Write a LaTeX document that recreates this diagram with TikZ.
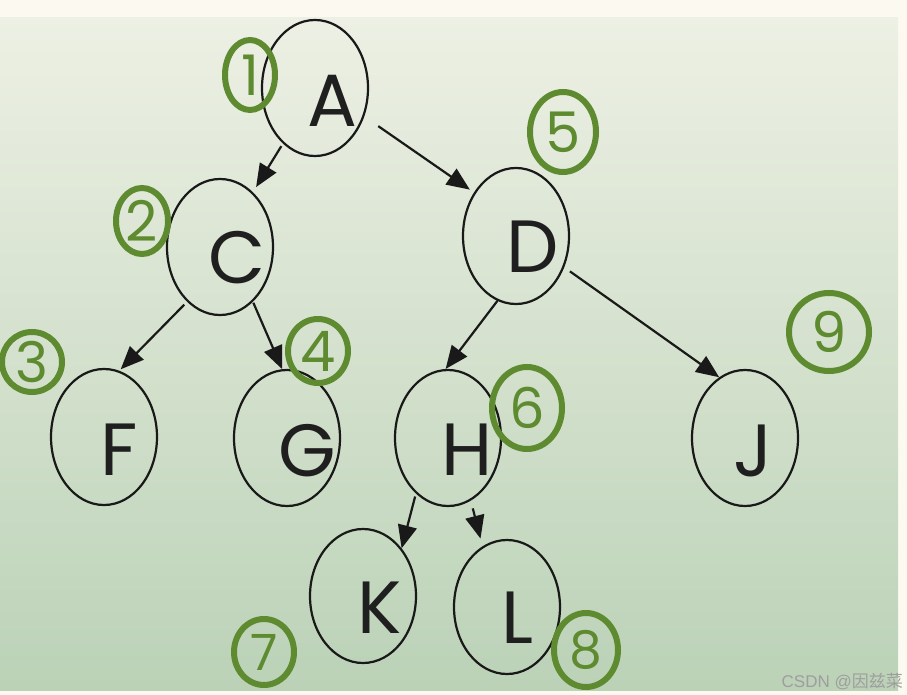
\documentclass[tikz,border=0pt]{standalone}
\usepackage{fontspec}
\setmainfont{Poppins}
\newfontfamily\cjk{Noto Sans CJK SC}
\newfontfamily\wmfont{Liberation Sans}
\usetikzlibrary{shapes.geometric,arrows.meta}
\definecolor{hand}{HTML}{5E8A30}
\definecolor{cream}{HTML}{FCFAF0}
\definecolor{bgtop}{HTML}{EDF0E4}
\definecolor{bgmid}{HTML}{DAE4D1}
\definecolor{bgbot}{HTML}{BBD2B7}
\begin{document}
\begin{tikzpicture}[x=1pt,y=-1pt,
  ell/.style={draw=black!90, line width=2.2pt, ellipse, minimum width=106pt, minimum height=136pt, inner sep=0pt},
  letter/.style={anchor=base, font=\fontsize{74}{74}\selectfont, text=black!88},
  arr/.style={line width=2.2pt, draw=black!90, -{Triangle[length=23pt,width=19pt]}},
  num/.style={draw=hand, line width=6pt, ellipse, inner sep=0pt, text=hand, font=\fontsize{56}{56}\selectfont}]
\useasboundingbox (0,0) rectangle (907,695);
\fill[cream] (0,0) rectangle (907,695);
\shade[top color=bgtop, middle color=bgmid, bottom color=bgbot] (0,18) rectangle (898,690);

% tree nodes
\node[ell] (A) at (315,88) {};
\node[ell] (C) at (220,247) {};
\node[ell] (D) at (516,236) {};
\node[ell] (F) at (104,437) {};
\node[ell] (G) at (287,438) {};
\node[ell] (H) at (448,438) {};
\node[ell] (J) at (745,438) {};
\node[ell, minimum height=134pt] (K) at (363,596) {};
\node[ell, minimum height=134pt] (L) at (507,607) {};

\node[letter] (tA) at ([shift={(17,39)}]A.center) {A};
\node[letter] (tC) at ([shift={(17,36)}]C.center) {C};
\node[letter] (tD) at ([shift={(17,36)}]D.center) {D};
\node[letter] (tF) at ([shift={(15,38)}]F.center) {F};
\node[letter] (tG) at ([shift={(20,38)}]G.center) {G};
\node[letter] (tH) at ([shift={(19,37)}]H.center) {H};
\node[letter] (tJ) at ([shift={(8,38)}]J.center) {J};
\node[letter] (tK) at ([shift={(17,37)}]K.center) {K};
\node[letter] (tL) at ([shift={(10,36)}]L.center) {L};

% arrows
\draw[arr, shorten <=3pt, shorten >=6pt] (A.-120) -- (C.59);
\draw[arr, shorten <=17pt, shorten >=5pt] (A.-30) -- (D.134);
\draw[arr, shorten <=4pt, shorten >=2pt] (C.-121) -- (F.77);
\draw[arr, shorten <=1pt] (C.-59) -- (G.94);
\draw[arr] (D.-106) -- (H.92);
\draw[arr, shorten <=7pt] (D.-33) -- (J.113);
\draw[arr, shorten <=3pt] (H.-120) -- (K.51);
\draw[arr, shorten <=8pt, shorten >=8pt] (H.-70) -- (L.112);

% handwritten order numbers
\node[num, minimum width=50pt, minimum height=70pt] (n1) at (250,75) {1};
\node[num, minimum width=52pt, minimum height=66pt] (n2) at (142,221) {2};
\node[num, minimum width=60pt, minimum height=60pt] (n3) at (32,362) {3};
\node[num, minimum width=60pt, minimum height=64pt] (n4) at (318,351) {4};
\node[num, minimum width=66pt, minimum height=80pt] (n5) at (563,132) {5};
\node[num, minimum width=70pt, minimum height=82pt] (n6) at (527,408) {6};
\node[num, minimum width=60pt, minimum height=66pt, font=\fontsize{50}{50}\selectfont] (n7) at (264,652) {7};
\node[num, minimum width=64pt, minimum height=74pt, font=\fontsize{52}{52}\selectfont] (n8) at (586,650) {8};
\node[num, minimum width=80pt, minimum height=78pt] (n9) at (829,332) {9};

% watermark
\node[anchor=base east, inner sep=0pt, text=black!38, font=\wmfont\fontsize{17}{17}\selectfont] (wm) at (903,687) {CSDN @{\cjk 因兹菜}};
\end{tikzpicture}
\end{document}
